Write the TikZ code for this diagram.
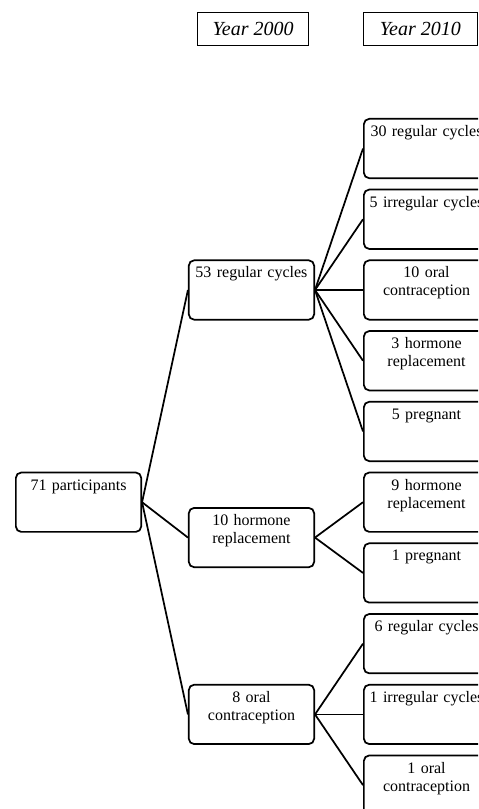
\documentclass[tikz,border=0pt]{standalone}
\usepackage{fontspec}
\setmainfont{Liberation Serif}
\usetikzlibrary{positioning,calc}

\begin{document}
\begin{tikzpicture}[
  x=0.75pt, y=-0.75pt,
  font=\fontsize{12}{13.5}\selectfont,
  stage/.style={rectangle, rounded corners=4pt, draw=black, line width=1.3pt,
                align=center, text width=92pt, inner xsep=1pt, inner ysep=3pt,
                text height=10.2pt, text depth=28.3pt},
  yearbox/.style={rectangle, draw=black, line width=0.6pt, inner sep=0pt,
                  font=\fontsize{15}{17}\selectfont\itshape,
                  minimum width=83.5pt, minimum height=24.5pt},
  link/.style={draw=black, line width=1.3pt},
]
\useasboundingbox (0,0) rectangle (478,809);
\clip (0,0) rectangle (478,809);

% ---- column headers ----
\node[yearbox, anchor=north west] (y2000) at (197,12) {Year 2000};
\node[yearbox, anchor=north west, minimum width=85.5pt] (y2010) at (363,12) {Year 2010};

% ---- year 2010 column ----
\node[stage, anchor=north west] (r1) at (363,118) {30 regular cycles};
\node[stage, below=7.25pt of r1] (r2) {5 irregular cycles};
\node[stage, below=7.25pt of r2] (r3) {10 oral\\contraception};
\node[stage, below=7.25pt of r3] (r4) {3 hormone\\replacement};
\node[stage, below=7.25pt of r4] (r5) {5 pregnant};
\node[stage, below=7.25pt of r5] (r6) {9 hormone\\replacement};
\node[stage, below=7.25pt of r6] (r7) {1 pregnant};
\node[stage, below=7.25pt of r7] (r8) {6 regular cycles};
\node[stage, below=7.25pt of r8] (r9) {1 irregular cycles};
\node[stage, below=7.25pt of r9] (r10) {1 oral\\contraception};

% ---- year 2000 column ----
\coordinate (g67) at ($(r6.south west)!0.5!(r7.north west)$);
\node[stage, left=36pt of r3] (regular) {53 regular cycles};
\node[stage, left=36pt of g67] (hormone) {10 hormone\\replacement};
\node[stage, left=36pt of r9] (oral) {8 oral\\contraception};

% ---- baseline ----
\node[stage, anchor=west] (root) at ($(r6.west)+(-348,0)$) {71 participants};

% ---- branches ----
\draw[link] (root.east) -- (regular.west);
\draw[link] (root.east) -- (hormone.west);
\draw[link] (root.east) -- (oral.west);
\foreach \i in {1,...,5}
  \draw[link] (regular.east) -- (r\i.west);
\foreach \i in {6,7}
  \draw[link] (hormone.east) -- (r\i.west);
\foreach \i in {8,9,10}
  \draw[link] (oral.east) -- (r\i.west);
\end{tikzpicture}
\end{document}
